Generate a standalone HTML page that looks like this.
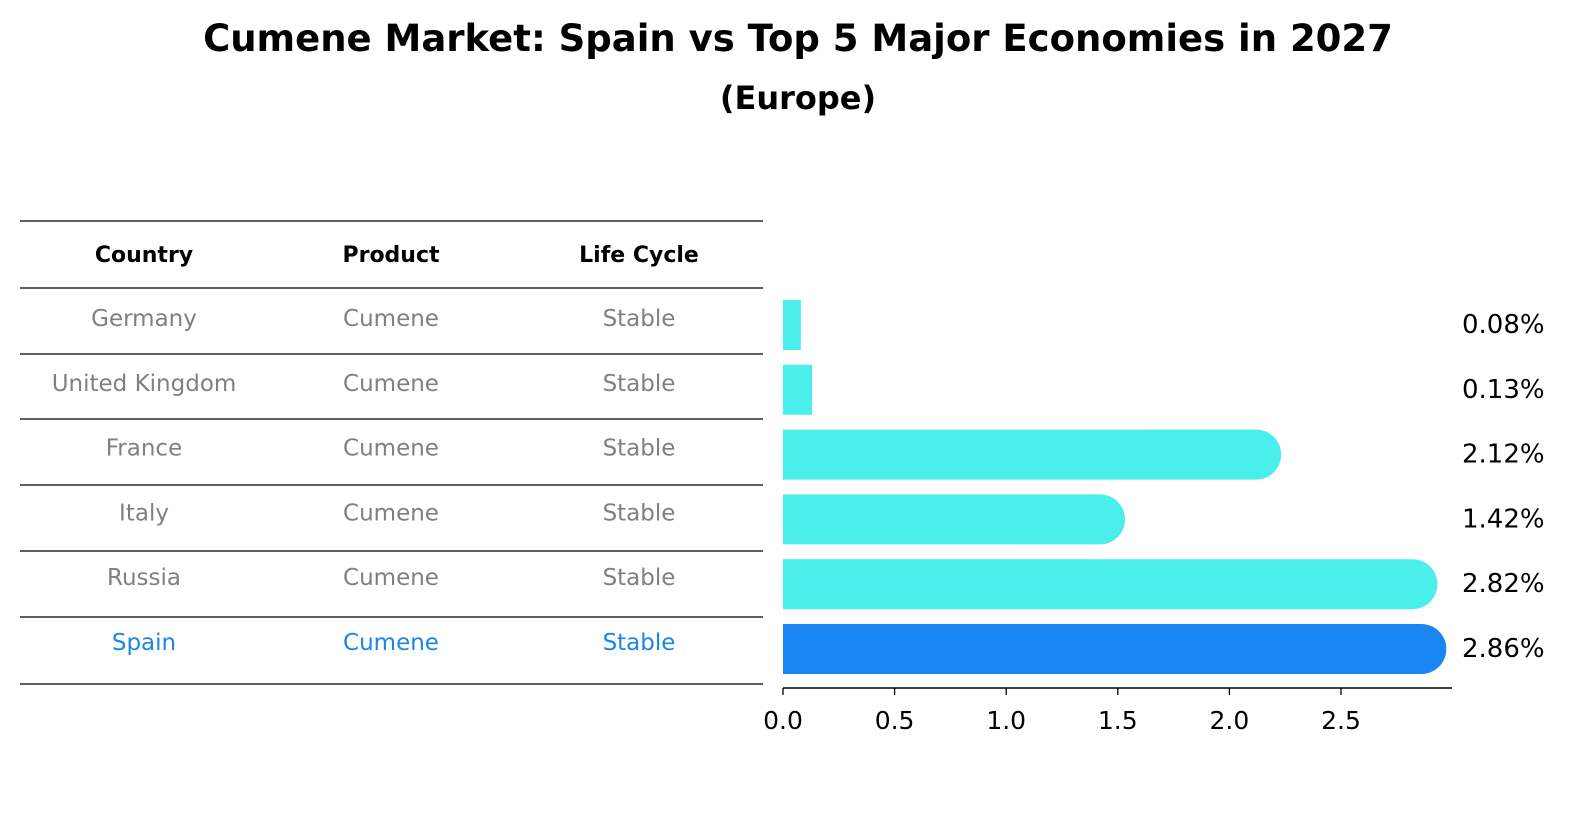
<!DOCTYPE html>
<html><head><meta charset="utf-8"><style>
body{margin:0;background:#fff;font-family:"DejaVu Sans","Liberation Sans",sans-serif}
svg text{font-family:"DejaVu Sans","Liberation Sans",sans-serif}
</style></head><body>
<svg width="1586" height="823" xmlns="http://www.w3.org/2000/svg">
<text x="798" y="51" text-anchor="middle" font-size="37" font-weight="bold">Cumene Market: Spain vs Top 5 Major Economies in 2027</text>
<text x="798" y="109" text-anchor="middle" font-size="32" font-weight="bold">(Europe)</text>
<g id="table"></g>
<g id="bars"></g>
<g id="axis"></g>
</svg>
<script>
const countries=["Germany","United Kingdom","France","Italy","Russia","Spain"];
const products=["Cumene","Cumene","Cumene","Cumene","Cumene","Cumene"];
const lifecycle=["Stable","Stable","Stable","Stable","Stable","Stable"];
const values=[0.08,0.13,2.12,1.42,2.82,2.86];
const ticks=[0,0.5,1,1.5,2,2.5];
const NS="http://www.w3.org/2000/svg";
function mk(t,a,p,txt){const e=document.createElementNS(NS,t);for(const k in a)e.setAttribute(k,a[k]);if(txt!==undefined)e.textContent=txt;p.appendChild(e);return e;}
const x0=783,sc=(1341-783)/2.5;
const xs=v=>x0+v*sc;
const rowY=i=>322+i*64.8;
const tbl=document.getElementById('table'),bars=document.getElementById('bars'),ax=document.getElementById('axis');
const cols=[144,391,639];
["Country","Product","Life Cycle"].forEach((h,j)=>{const t=mk('text',{x:cols[j],y:262,'text-anchor':'middle','font-size':'22','font-weight':'bold'},tbl,h);

});
[221,288,354,419,485,551,617,684].forEach(y=>{const l=mk('line',{x1:20,x2:763,y1:y,y2:y,stroke:'#000','stroke-width':1.2},tbl);

});
countries.forEach((c,i)=>{
 const spain=c==="Spain";const col=spain?'#1a86e6':'#808080';
 [c,products[i],lifecycle[i]].forEach((s,j)=>{const t=mk('text',{x:cols[j],y:rowY(i)+4,'text-anchor':'middle','font-size':'23',fill:col},tbl,s);
 
 });
 const h=50,y=rowY(i)-h/2+3,w=xs(values[i])-x0,r=values[i]>1?h/2:0;
 const fill=spain?'#1a86f4':'#4aeeea';
 let d;
 if(r>0) d=`M${x0},${y} H${x0+w} A${r},${r} 0 0 1 ${x0+w},${y+h} H${x0} Z`;
 else d=`M${x0},${y} H${x0+w} V${y+h} H${x0} Z`;
 const b=mk('path',{d:d,fill:fill},bars);
 
 
 const lt=mk('text',{x:1462,y:rowY(i)+11,'font-size':'26'},bars,values[i].toFixed(2)+'%');
 
 
});
const al=mk('line',{x1:x0,x2:1452,y1:688,y2:688,stroke:'#000','stroke-width':1.5},ax);


ticks.forEach(t=>{const tk=mk('line',{x1:xs(t),x2:xs(t),y1:688,y2:695,stroke:'#000','stroke-width':1.3},ax);


const tl=mk('text',{x:xs(t),y:729,'text-anchor':'middle','font-size':'25'},ax,t.toFixed(1));

});
</script>
</body></html>
